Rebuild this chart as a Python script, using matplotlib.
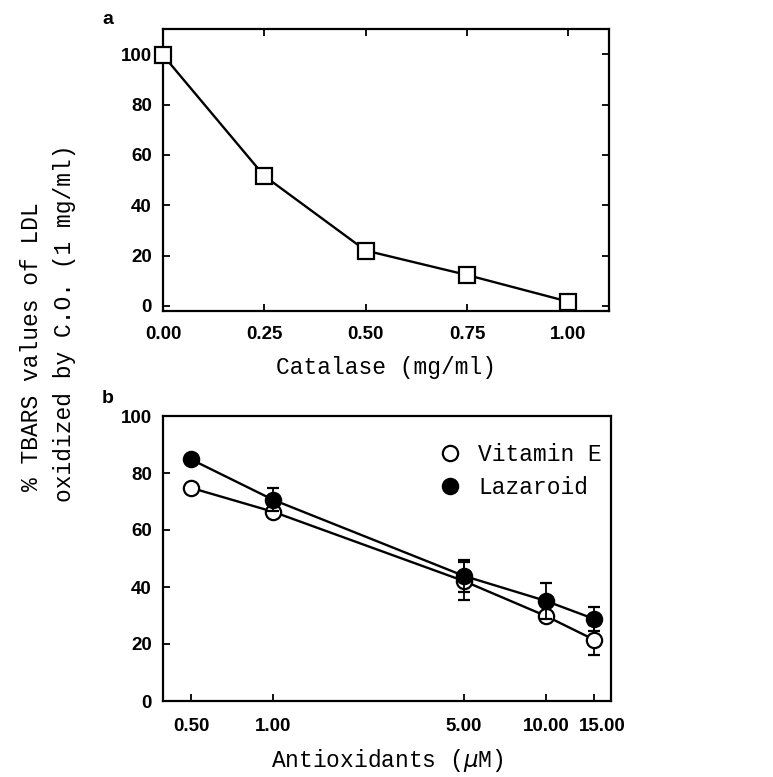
import numpy as np
import matplotlib
matplotlib.use('Agg')
import matplotlib.pyplot as plt
import matplotlib.transforms as mtransforms
from matplotlib.lines import Line2D
from matplotlib.font_manager import FontProperties
from matplotlib.ticker import FixedLocator, FixedFormatter, NullLocator

# panel a: catalase
catalase = [0.00, 0.25, 0.50, 0.75, 1.00]
catalase_labels = ['0.00', '0.25', '0.50', '0.75', '1.00']
tbars_cat = [99.6, 51.6, 22.0, 12.3, 1.7]

# panel b: antioxidants
antiox = [0.5, 1.0, 5.0, 10.0, 15.0]
antiox_labels = ['0.50', '1.00', '5.00', '10.00', '15.00']
vit_e = [74.8, 66.4, 42.1, 29.8, 21.5]
vit_e_err = [0.0, 0.0, 6.7, 0.0, 5.3]
lazaroid = [84.8, 70.6, 43.9, 35.1, 28.8]
lazaroid_err = [0.0, 4.0, 5.6, 6.2, 4.3]

mono = 'Liberation Mono'
tickfont = FontProperties(family='Liberation Sans', weight='bold', size=13.5)

W, H = 773, 777
fig = plt.figure(figsize=(W/100., H/100.), dpi=100)

def px_axes(l, t, r, b):
    return fig.add_axes([l/W, 1 - b/H, (r-l)/W, (b-t)/H])

###################################################################################################
# Panel a
ax1 = px_axes(163, 29, 609, 311)
ax1.plot(catalase, tbars_cat, color='k', lw=1.7, marker='s', ms=11,
         mfc='white', mec='k', mew=1.6, zorder=3, clip_on=False)
ax1.set_xlim(0, 1.10)
ax1.set_ylim(-2, 110)
ax1.set_xticks(catalase)
ax1.set_xticklabels(catalase_labels)
ax1.set_yticks([0, 20, 40, 60, 80, 100])
ax1.tick_params(direction='in', length=5, width=1.3, top=True, right=True)
ax1.tick_params(axis='x', pad=11)
ax1.tick_params(axis='y', pad=8)
for lab in ax1.get_xticklabels() + ax1.get_yticklabels():
    lab.set_fontproperties(tickfont)
for s in ax1.spines.values():
    s.set_linewidth(1.6)
ax1.set_xlabel('Catalase (mg/ml)', family=mono, size=16.5, labelpad=9)

###################################################################################################
# Panel b
ax2 = px_axes(163, 416, 611, 701)
ax2.set_xscale('log')
ax2.errorbar(antiox, vit_e, yerr=vit_e_err, color='k', lw=1.7, marker='o', ms=11,
             mfc='white', mec='k', mew=1.6, capsize=4, elinewidth=1.3, zorder=3)
ax2.errorbar(antiox, lazaroid, yerr=lazaroid_err, color='k', lw=1.7, marker='o', ms=11,
             mfc='k', mec='k', mew=1.6, capsize=4, elinewidth=1.3, zorder=4)
ax2.set_xlim(0.395, 17.3)
ax2.set_ylim(0, 100)
ax2.xaxis.set_major_locator(FixedLocator(antiox))
ax2.xaxis.set_major_formatter(FixedFormatter(antiox_labels))
ax2.xaxis.set_minor_locator(NullLocator())
ax2.set_yticks([0, 20, 40, 60, 80, 100])
ax2.tick_params(direction='in', length=5, width=1.3)
ax2.tick_params(axis='x', pad=12)
ax2.tick_params(axis='y', pad=8)
for lab in ax2.get_xticklabels() + ax2.get_yticklabels():
    lab.set_fontproperties(tickfont)
for s in ax2.spines.values():
    s.set_linewidth(1.6)
# the last label sits a little to the right in the original
last = ax2.get_xticklabels()[-1]
last.set_transform(last.get_transform() +
                   mtransforms.ScaledTranslation(8/100., 0, fig.dpi_scale_trans))
ax2.set_xlabel(r'Antioxidants ($\mu$M)', family=mono, size=16.5, labelpad=9)

handles = [Line2D([], [], ls='none', marker='o', ms=11, mfc='white', mec='k', mew=1.6),
           Line2D([], [], ls='none', marker='o', ms=11, mfc='k', mec='k', mew=1.6)]
ax2.legend(handles, ['Vitamin E', 'Lazaroid'], loc='upper right', frameon=False,
           prop=dict(family=mono, size=16.5), handlelength=0.8, handletextpad=0.8,
           borderaxespad=0.0, borderpad=0.6, labelspacing=0.45,
           bbox_to_anchor=(1.01, 0.955))

# panel letters and shared y label
fig.text(108/W, 1 - 20/H, 'a', family='Liberation Sans', weight='bold', size=14,
         ha='center', va='center')
fig.text(108/W, 1 - 398/H, 'b', family='Liberation Sans', weight='bold', size=14,
         ha='center', va='center')
fig.text(32/W, 1 - 347/H, '% TBARS values of LDL', family=mono, size=16.5,
         rotation=90, ha='center', va='center')
fig.text(65/W, 1 - 323/H, 'oxidized by C.O. (1 mg/ml)', family=mono, size=16.5,
         rotation=90, ha='center', va='center')

plt.savefig('out.png', dpi=100)
